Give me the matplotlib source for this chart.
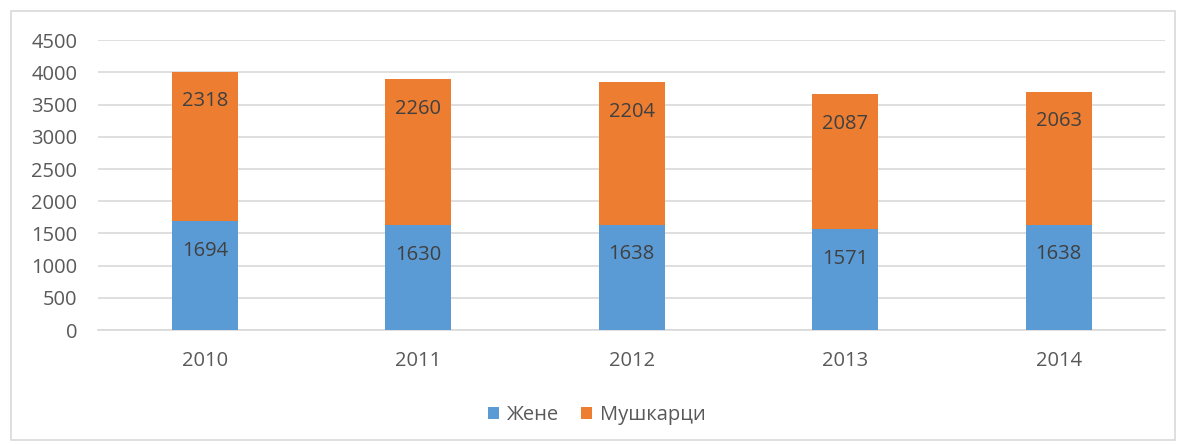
import matplotlib.pyplot as plt
from matplotlib.patches import Rectangle
import numpy as np

# data
years = ['2010', '2011', '2012', '2013', '2014']
zene = [1694, 1630, 1638, 1571, 1638]
muskarci = [2318, 2260, 2204, 2087, 2063]

plt.rcParams['font.family'] = ['Open Sans', 'DejaVu Sans']

fig = plt.figure(figsize=(11.82, 4.45), dpi=100)
ax = fig.add_axes([0.083, 0.258, 0.903, 0.652])

# chart border
fig.patches.append(Rectangle((11 / 1182, 5 / 445), 1164 / 1182, 429 / 445,
                             transform=fig.transFigure, fill=False,
                             edgecolor='#d9d9d9', linewidth=1.2))

x = np.arange(len(years))
w = 0.31
b1 = ax.bar(x, zene, w, color='#5b9bd5', label='Жене', zorder=3)
b2 = ax.bar(x, muskarci, w, bottom=zene, color='#ed7d31', label='Мушкарци', zorder=3)

# labels sit near the inside end of each segment
for i in range(len(years)):
    ax.annotate(str(zene[i]), (x[i], zene[i]), xytext=(0, -21.5),
                textcoords='offset points', ha='center', va='center',
                fontsize=14.5, color='#404040', zorder=4)
    ax.annotate(str(muskarci[i]), (x[i], zene[i] + muskarci[i]), xytext=(0, -21.5),
                textcoords='offset points', ha='center', va='center',
                fontsize=14.5, color='#404040', zorder=4)

ax.set_ylim(0, 4500)
ax.set_yticks(range(0, 4501, 500))
ax.set_xlim(-0.5, len(years) - 0.5)
ax.set_xticks(x)
ax.set_xticklabels(years)
ax.yaxis.grid(True, color='#d9d9d9', linewidth=1.2, zorder=0)
for s in ['top', 'right', 'left']:
    ax.spines[s].set_visible(False)
ax.spines['bottom'].set_color('#d9d9d9')
ax.spines['bottom'].set_linewidth(1.2)
ax.tick_params(length=0, labelsize=14.5, labelcolor='#595959')
ax.tick_params(axis='x', pad=15)
ax.tick_params(axis='y', pad=15)

fig.legend(handles=[b1, b2], loc='center', bbox_to_anchor=(0.505, 0.068), ncol=2,
           frameon=False, fontsize=14.5, labelcolor='#595959', handlelength=0.55,
           handleheight=0.55, handletextpad=0.4, columnspacing=1.1)

fig.savefig('out.png', dpi=100)
